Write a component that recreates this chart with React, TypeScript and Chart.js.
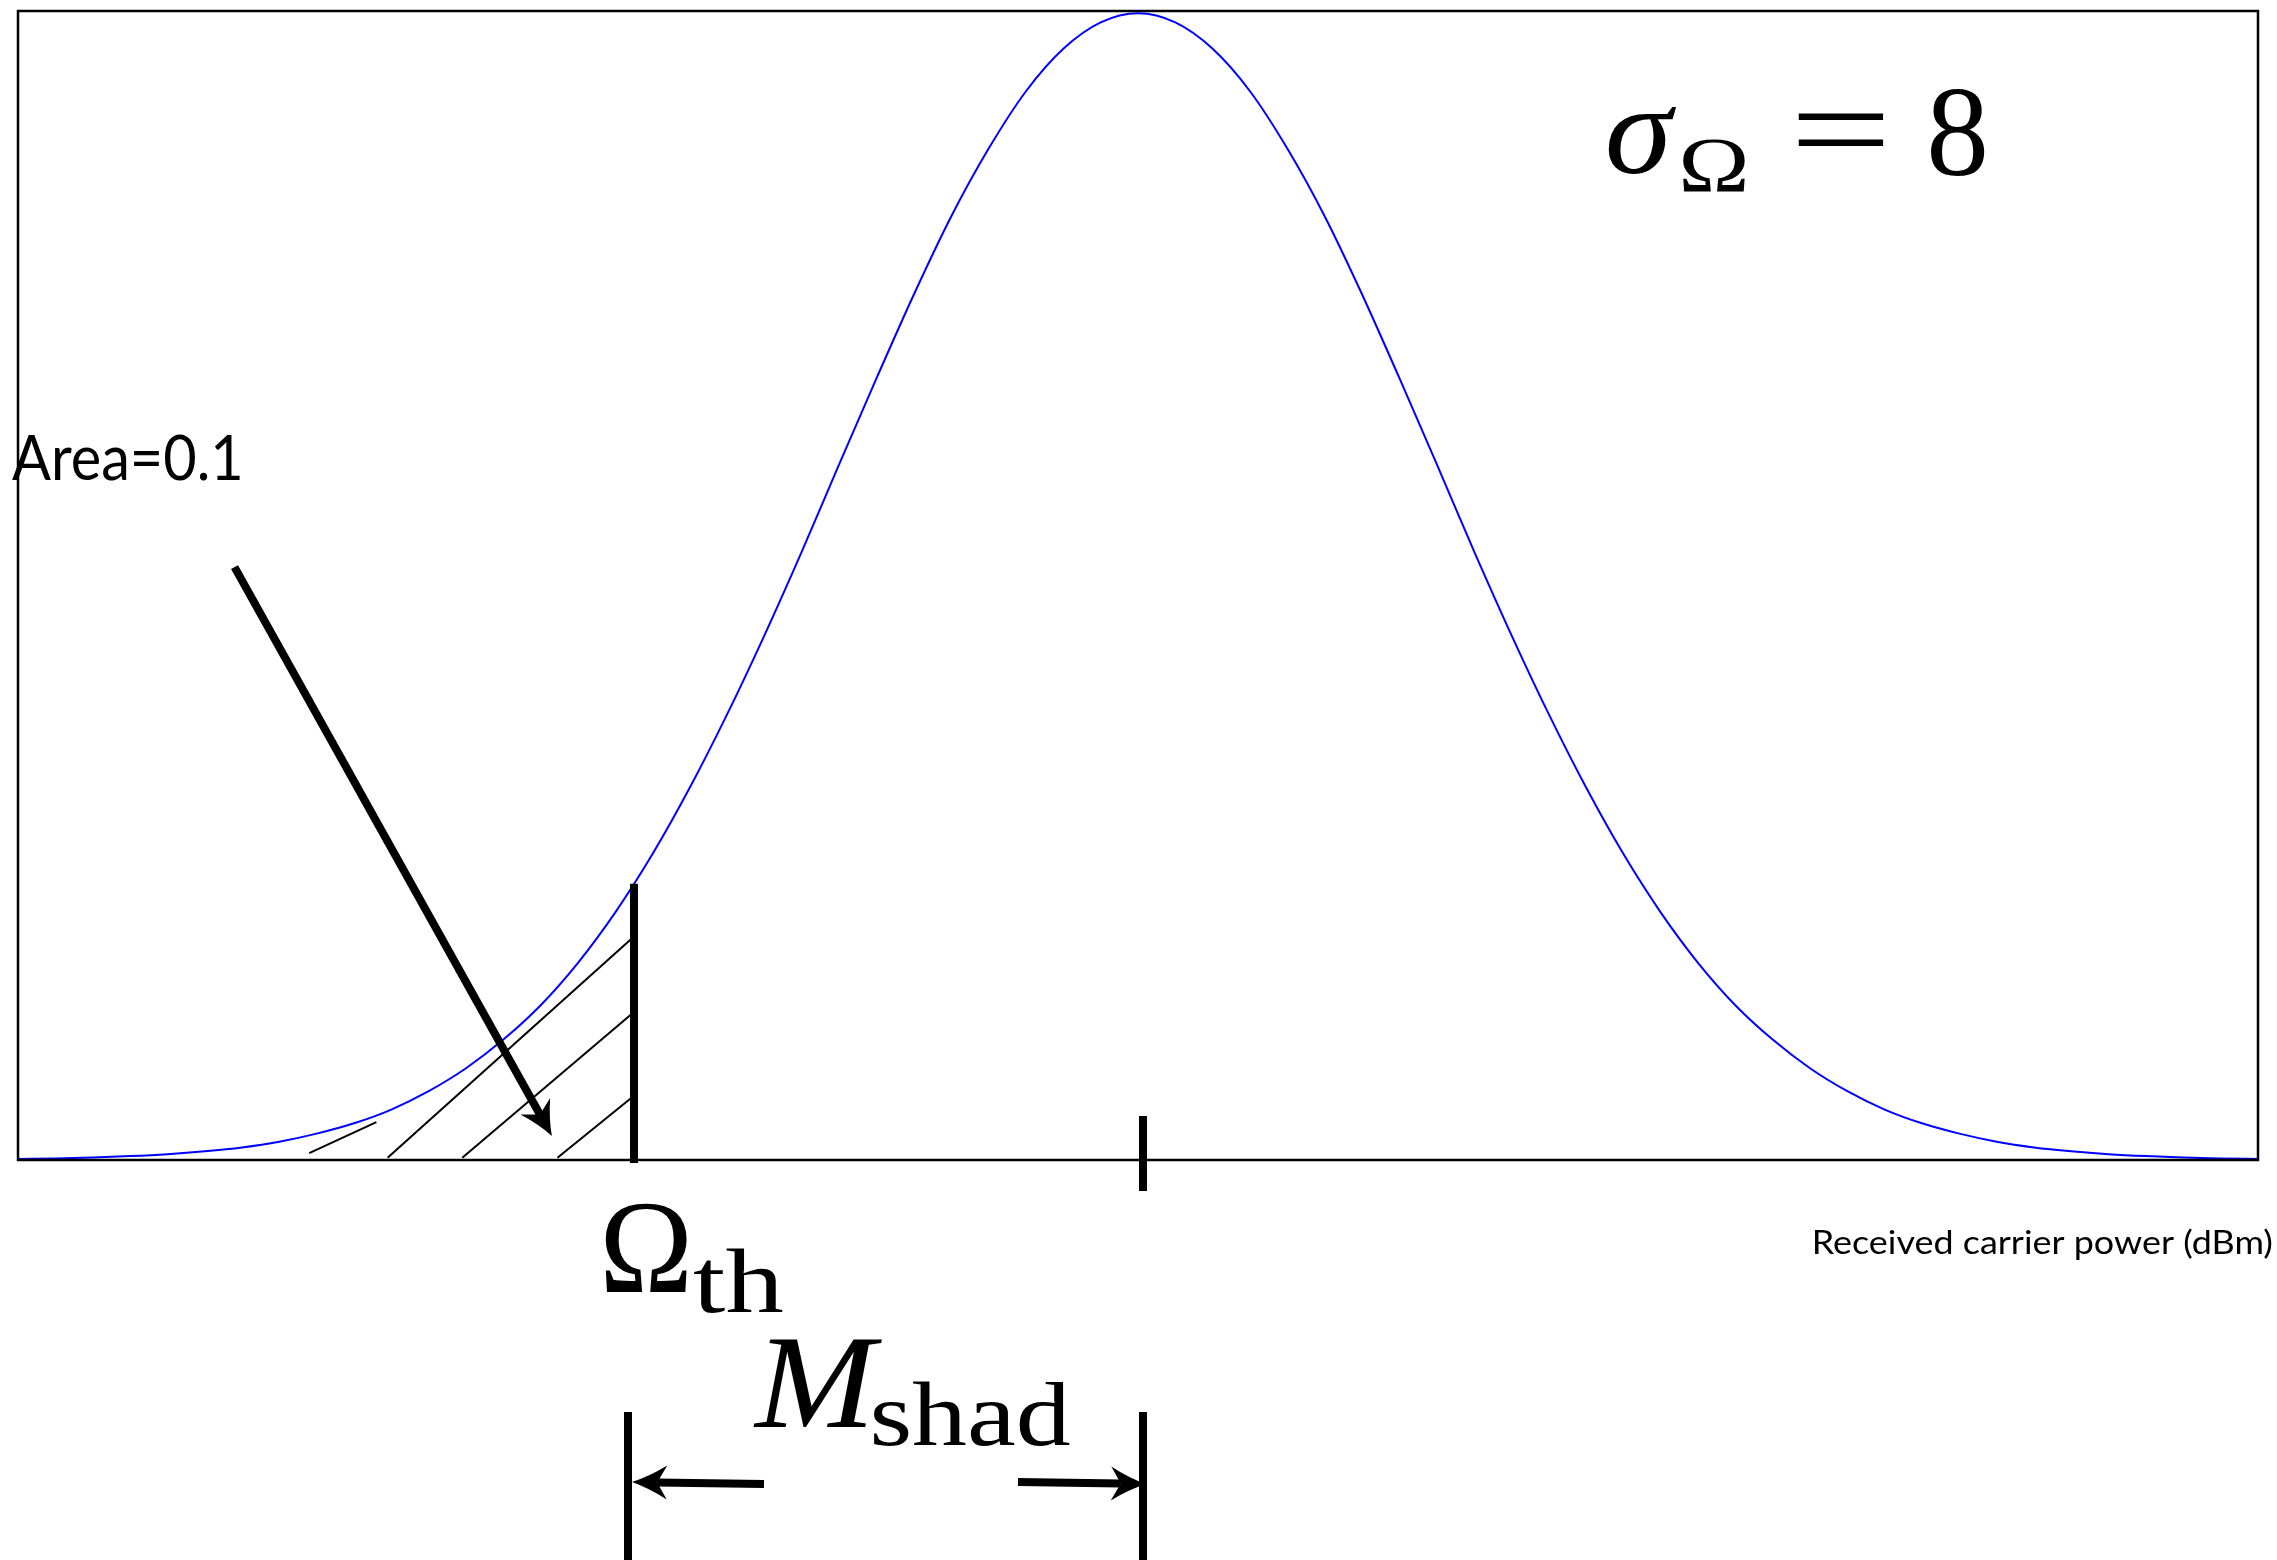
import React, { useEffect, useRef } from "react";
import { Chart, registerables } from "chart.js";

Chart.register(...registerables);

const W = 2277;
const H = 1560;

// Received power relative to the local mean (dB) and the relative density of the
// log-normal shadowing distribution at each offset (peak normalised to 1).
const powerOffsetDb = [
  -30, -29, -28, -27, -26, -25, -24, -23, -22, -21, -20, -19, -18, -17, -16, -15,
  -14, -13, -12, -11, -10, -9, -8, -7, -6, -5, -4, -3, -2, -1, 0,
  1, 2, 3, 4, 5, 6, 7, 8, 9, 10, 11, 12, 13, 14, 15,
  16, 17, 18, 19, 20, 21, 22, 23, 24, 25, 26, 27, 28, 29, 30,
];
const relativeDensity = [
  0.0009, 0.0014, 0.0022, 0.0034, 0.0051, 0.0076, 0.011, 0.016, 0.023, 0.032, 0.044, 0.06, 0.08, 0.105, 0.135, 0.172,
  0.216, 0.267, 0.325, 0.389, 0.458, 0.531, 0.607, 0.682, 0.755, 0.823, 0.882, 0.932, 0.969, 0.992, 1.0,
  0.992, 0.969, 0.932, 0.882, 0.823, 0.755, 0.682, 0.607, 0.531, 0.458, 0.389, 0.325, 0.267, 0.216, 0.172,
  0.135, 0.105, 0.08, 0.06, 0.044, 0.032, 0.023, 0.016, 0.011, 0.0076, 0.0051, 0.0034, 0.0022, 0.0014, 0.0009,
];

const meanDb = 0;
const thresholdDb = -13.5;
const thresholdDensity = 0.241;

// Hand-drawn hatching of the outage area: [x0, y0, x1, y1] in data units.
const hatchSegments = [
  [-22.2, 0.006, -20.4, 0.033],
  [-20.1, 0.002, -13.5, 0.195],
  [-18.1, 0.002, -13.5, 0.129],
  [-15.55, 0.002, -13.5, 0.056],
];
// Pointer from the area label into the hatched tail: [x0, y0, x1, y1].
const areaPointer = [-24.2, 0.517, -15.7, 0.021];

const areaLabel = "Area=0.1";
const axisTitle = "Received carrier power (dBm)";

const SANS = "Lato";
const SERIF = '"Liberation Serif"';

// Draw text so that its ink spans [left, right] horizontally.
function inkText(
  ctx: CanvasRenderingContext2D,
  text: string,
  font: string,
  left: number,
  right: number,
  baseline: number
) {
  ctx.save();
  ctx.font = font;
  ctx.textAlign = "left";
  ctx.textBaseline = "alphabetic";
  ctx.fillStyle = "#000";
  const m = ctx.measureText(text);
  const w = m.actualBoundingBoxLeft + m.actualBoundingBoxRight;
  const sx = w > 0 ? (right - left) / w : 1;
  ctx.translate(left, baseline);
  ctx.scale(sx, 1);
  ctx.fillText(text, m.actualBoundingBoxLeft, 0);
  ctx.restore();
}

function arrow(
  ctx: CanvasRenderingContext2D,
  x0: number,
  y0: number,
  x1: number,
  y1: number,
  width: number,
  headLen: number,
  headHalf: number
) {
  const dx = x1 - x0;
  const dy = y1 - y0;
  const len = Math.hypot(dx, dy);
  const ux = dx / len;
  const uy = dy / len;
  const nx = -uy;
  const ny = ux;
  const notch = headLen * 0.72;
  ctx.save();
  ctx.strokeStyle = "#000";
  ctx.fillStyle = "#000";
  ctx.lineWidth = width;
  ctx.lineCap = "butt";
  ctx.beginPath();
  ctx.moveTo(x0, y0);
  ctx.lineTo(x1 - ux * notch, y1 - uy * notch);
  ctx.stroke();
  const bx = x1 - ux * headLen;
  const by = y1 - uy * headLen;
  const c1x = bx + nx * headHalf;
  const c1y = by + ny * headHalf;
  const c2x = bx - nx * headHalf;
  const c2y = by - ny * headHalf;
  const mx = x1 - ux * headLen * 0.5;
  const my = y1 - uy * headLen * 0.5;
  ctx.beginPath();
  ctx.moveTo(x1, y1);
  ctx.quadraticCurveTo(mx + nx * headHalf * 0.35, my + ny * headHalf * 0.35, c1x, c1y);
  ctx.lineTo(x1 - ux * notch, y1 - uy * notch);
  ctx.lineTo(c2x, c2y);
  ctx.quadraticCurveTo(mx - nx * headHalf * 0.35, my - ny * headHalf * 0.35, x1, y1);
  ctx.closePath();
  ctx.fill();
  ctx.restore();
}

function segment(ctx: CanvasRenderingContext2D, x0: number, y0: number, x1: number, y1: number, width: number) {
  ctx.save();
  ctx.strokeStyle = "#000";
  ctx.lineWidth = width;
  ctx.lineCap = "butt";
  ctx.beginPath();
  ctx.moveTo(x0, y0);
  ctx.lineTo(x1, y1);
  ctx.stroke();
  ctx.restore();
}

const shadowMarginNotes = {
  id: "shadowMarginNotes",
  afterDatasetsDraw(chart: any) {
    const { ctx, chartArea: a, scales } = chart;
    const px = (v: number) => scales.x.getPixelForValue(v);
    const py = (v: number) => scales.y.getPixelForValue(v);

    // hatching of the tail below the threshold
    for (const [x0, y0, x1, y1] of hatchSegments) {
      segment(ctx, px(x0), py(y0), px(x1), py(y1), 2);
    }

    // threshold line up to the curve
    const xt = px(thresholdDb);
    segment(ctx, xt, a.bottom + 3, xt, py(thresholdDensity), 8);

    // mean marker crossing the axis (drawn slightly right of centre)
    const xm = px(meanDb) + 5;
    segment(ctx, xm, a.bottom - 44, xm, a.bottom + 31, 8);

    // pointer from the area label
    const [ax0, ay0, ax1, ay1] = areaPointer;
    arrow(ctx, px(ax0), py(ay0), px(ax1), py(ay1), 8, 34, 17);

    // frame around the plotting area
    ctx.save();
    ctx.strokeStyle = "#000";
    ctx.lineWidth = 2.5;
    ctx.strokeRect(a.left, a.top, a.right - a.left, a.bottom - a.top);
    ctx.restore();

    // labels
    inkText(ctx, areaLabel, `62px ${SANS}`, 12, 240, 480);
    inkText(ctx, axisTitle, `33px ${SANS}`, 1815, 2272, 1254);

    inkText(ctx, "σ", `italic 128px ${SERIF}`, 1608, 1677, 173);
    inkText(ctx, "Ω", `79px ${SERIF}`, 1683, 1745, 191);
    inkText(ctx, "=", `130px ${SERIF}`, 1798, 1883, 173);
    inkText(ctx, "8", `130px ${SERIF}`, 1930, 1985, 175);

    inkText(ctx, "Ω", `134px ${SERIF}`, 605, 687, 1292);
    inkText(ctx, "th", `91px ${SERIF}`, 693, 783, 1312);
    inkText(ctx, "M", `italic 134px ${SERIF}`, 753, 882, 1427);
    inkText(ctx, "shad", `91px ${SERIF}`, 873, 1070, 1445);

    // shadow margin dimension
    const xl = xt - 6;
    const barTop = a.bottom + 252;
    segment(ctx, xl, barTop, xl, H, 8);
    segment(ctx, xm, barTop, xm, H, 8);
    const yArrow = a.bottom + 323;
    arrow(ctx, xl + 136, yArrow + 1, xl + 4, yArrow - 1, 8, 35, 17);
    arrow(ctx, xm - 125, yArrow - 1, xm + 3, yArrow + 1, 8, 35, 17);
  },
};

export default function App() {
  const canvasRef = useRef<HTMLCanvasElement>(null);

  useEffect(() => {
    const canvas = canvasRef.current;
    if (!canvas) return;
    const points = powerOffsetDb.map((x, i) => ({ x, y: relativeDensity[i] }));
    const chart = new Chart(canvas, {
      type: "line",
      data: {
        datasets: [
          {
            data: points,
            borderColor: "#0000ff",
            borderWidth: 2,
            pointRadius: 0,
            fill: false,
            cubicInterpolationMode: "monotone",
          },
        ],
      },
      options: {
        animation: false,
        responsive: false,
        devicePixelRatio: 1,
        events: [],
        layout: { padding: { left: 18, top: 11, right: W - 2258, bottom: H - 1160 } },
        scales: {
          x: { type: "linear", min: -30, max: 30, display: false },
          y: { type: "linear", min: 0, max: 1.002, display: false },
        },
        plugins: {
          legend: { display: false },
          tooltip: { enabled: false },
          title: { display: false },
        },
      },
      plugins: [shadowMarginNotes],
    });
    return () => chart.destroy();
  }, []);

  return (
    <div style={{ position: "absolute", left: 0, top: 0, width: W, height: H, background: "#fff" }}>
      <canvas ref={canvasRef} width={W} height={H} style={{ display: "block", width: W, height: H }} />
    </div>
  );
}
